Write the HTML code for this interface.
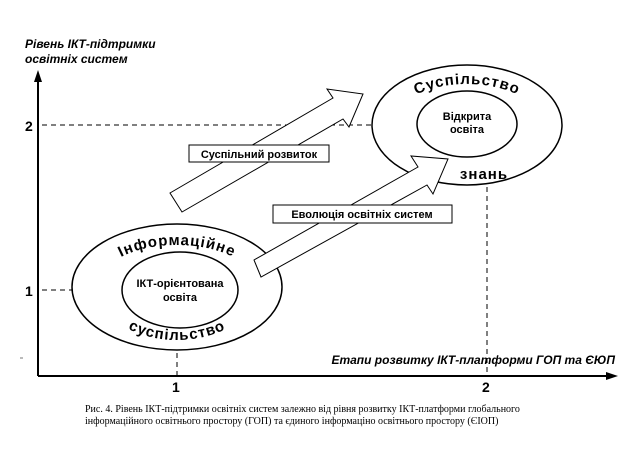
<!DOCTYPE html>
<html><head><meta charset="utf-8"><style>body{margin:0;background:#fff}svg{display:block}</style></head>
<body>
<svg width="640" height="452" viewBox="0 0 640 452" xmlns="http://www.w3.org/2000/svg" font-family="Liberation Sans, sans-serif">
<defs>
<path id="a1" d="M97,287 A80,42 0 0 1 257,287"/>
<path id="a2" d="M97,287 A80,53 0 0 0 257,287"/>
<path id="a3" d="M392,125 A75,41 0 0 1 542,125"/>
</defs>
<!-- axes -->
<line x1="38" y1="80" x2="38" y2="376" stroke="#000" stroke-width="2"/>
<polygon points="38,70 34,82 42,82" fill="#000"/>
<line x1="38" y1="376" x2="610" y2="376" stroke="#000" stroke-width="2"/>
<polygon points="618,376 606,372 606,380" fill="#000"/>
<g stroke="#000" stroke-dasharray="5,4" stroke-width="1">
<line x1="42" y1="125" x2="376" y2="125"/>
<line x1="42" y1="290" x2="74" y2="290"/>
<line x1="177" y1="353" x2="177" y2="376"/>
<line x1="487" y1="187" x2="487" y2="376"/>
</g>
<text x="25" y="131" font-size="14" font-weight="bold">2</text>
<text x="25" y="296" font-size="14" font-weight="bold">1</text>
<text x="172" y="392" font-size="14" font-weight="bold">1</text>
<text x="482" y="392" font-size="14" font-weight="bold">2</text>
<text x="25" y="48" font-size="12" font-weight="bold" font-style="italic">Рівень ІКТ-підтримки</text>
<text x="25" y="63" font-size="12" font-weight="bold" font-style="italic">освітніх систем</text>
<text x="615" y="364" font-size="12" font-weight="bold" font-style="italic" text-anchor="end">Етапи розвитку ІКТ-платформи ГОП та ЄЮП</text>
<!-- ellipses -->
<ellipse cx="467" cy="125" rx="95" ry="60" fill="#fff" stroke="#000" stroke-width="1.5"/>
<ellipse cx="467" cy="124" rx="50" ry="33" fill="#fff" stroke="#000" stroke-width="1.5"/>
<text x="467" y="120" font-size="11" font-weight="bold" text-anchor="middle">Відкрита</text>
<text x="467" y="133" font-size="11" font-weight="bold" text-anchor="middle">освіта</text>
<text font-size="15" font-weight="bold" letter-spacing="1"><textPath href="#a3" startOffset="50%" text-anchor="middle">Суспільство</textPath></text>
<text x="484" y="179" font-size="15" font-weight="bold" letter-spacing="1" text-anchor="middle">знань</text>
<ellipse cx="177" cy="287" rx="105" ry="63" fill="#fff" stroke="#000" stroke-width="1.5"/>
<ellipse cx="180" cy="290" rx="58" ry="38" fill="#fff" stroke="#000" stroke-width="1.5"/>
<text x="180" y="287" font-size="11" font-weight="bold" text-anchor="middle">ІКТ-орієнтована</text>
<text x="180" y="301" font-size="11" font-weight="bold" text-anchor="middle">освіта</text>
<text font-size="15" font-weight="bold" letter-spacing="1"><textPath href="#a1" startOffset="50%" text-anchor="middle">Інформаційне</textPath></text>
<text font-size="15" font-weight="bold" letter-spacing="1"><textPath href="#a2" startOffset="50%" text-anchor="middle">суспільство</textPath></text>
<!-- arrows -->
<polygon points="170,193 333,98 327,89 363,94 349,127 343,119 182,212" fill="#fff" stroke="#000" stroke-width="1"/>
<polygon points="254,260 418,167 411,156 448,159 433,194 427,185 261,277" fill="#fff" stroke="#000" stroke-width="1"/>
<rect x="189" y="145" width="140" height="17" fill="#fff" stroke="#000"/>
<text x="259" y="158" font-size="11" font-weight="bold" text-anchor="middle">Суспільний розвиток</text>
<rect x="273" y="205" width="179" height="18" fill="#fff" stroke="#000"/>
<text x="362" y="218" font-size="11" font-weight="bold" text-anchor="middle">Еволюція освітніх систем</text>
<rect x="20" y="357" width="3" height="2" fill="#bbb"/>
<text x="85" y="412" font-size="10" font-family="Liberation Serif, serif">Рис. 4. Рівень ІКТ-підтримки освітніх систем залежно від рівня розвитку ІКТ-платформи глобального</text>
<text x="85" y="424" font-size="10" font-family="Liberation Serif, serif">інформаційного освітнього простору (ГОП) та єдиного інформаціно освітнього простору (ЄІОП)</text>
</svg>
</body></html>
